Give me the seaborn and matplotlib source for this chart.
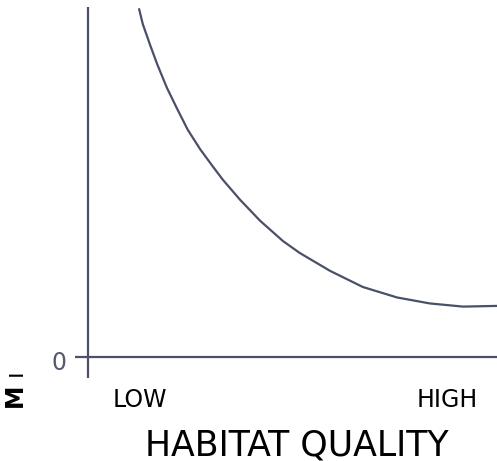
import numpy as np
import pandas as pd
import seaborn as sns
import matplotlib
matplotlib.use('Agg')
import matplotlib.pyplot as plt
from matplotlib.transforms import ScaledTranslation

# values (x: habitat quality 0..1, y: M-bar, 0 at the axis)
quality = [0.125, 0.134, 0.152, 0.169, 0.193, 0.218, 0.244, 0.274, 0.306, 0.330,
           0.372, 0.421, 0.477, 0.518, 0.592, 0.672, 0.756, 0.836, 0.917, 1.0]
m_bar = [0.994, 0.951, 0.891, 0.837, 0.769, 0.709, 0.649, 0.594, 0.543, 0.506,
         0.449, 0.389, 0.331, 0.297, 0.246, 0.200, 0.170, 0.153, 0.144, 0.146]
x_tick_pos = [0.127, 0.878]
x_tick_labels = ['LOW', 'HIGH']
y_tick_pos = [0]
y_tick_labels = ['0']

df = pd.DataFrame({'quality': quality, 'm_bar': m_bar})

sns.set_style('white')
plt.rcParams['font.family'] = ['DejaVu Sans']

ink = '#4a5068'
fig = plt.figure(figsize=(4.97, 4.61), dpi=100)
W, H = 497, 461
ax = fig.add_axes([75 / W, (H - 378) / H, 422 / W, 371 / H])

sns.lineplot(data=df, x='quality', y='m_bar', ax=ax, color=ink, lw=1.6,
             solid_joinstyle='round', solid_capstyle='round')
ax.axvline(0, color=ink, lw=1.6)
ax.axhline(0, color=ink, lw=1.6)

ax.set_xlim(-0.0318, 1.0)
ax.set_ylim(-0.06, 1.0)
for s in ax.spines.values():
    s.set_visible(False)

ax.set_xticks(x_tick_pos, x_tick_labels, fontsize=17, color='black')
ax.set_yticks(y_tick_pos, y_tick_labels, fontsize=17, color='#555a6c')
ax.tick_params(axis='x', length=0, pad=7)
ax.tick_params(axis='y', length=0, pad=6)
for lab in ax.get_yticklabels():
    lab.set_transform(lab.get_transform() + ScaledTranslation(0, -3 / 100, fig.dpi_scale_trans))
ax.set_xlabel('')
ax.set_ylabel('')

fig.text(297 / W, 1 - 445 / H, 'HABITAT QUALITY', fontsize=25,
         ha='center', va='center', color='black')
# rotated axis symbol: M with its small bar
fig.text(17.5 / W, 1 - 391 / H, r'$\mathbf{M}$ ı', fontsize=17,
         rotation=90, ha='center', va='center', color='black')

fig.savefig('out.png', dpi=100)
